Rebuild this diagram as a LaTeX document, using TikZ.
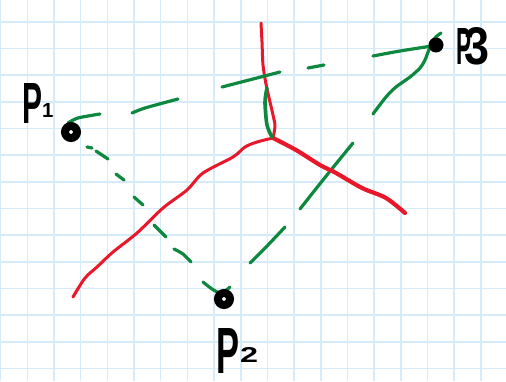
\documentclass[tikz,border=0pt]{standalone}
\usepackage{fontspec}
\setmainfont{Liberation Sans}
\usepackage{graphicx}
\definecolor{gridblue}{RGB}{214,235,250}
\definecolor{penred}{RGB}{232,24,42}
\definecolor{pengreen}{RGB}{14,136,62}
\tikzset{
  gridline/.style={draw=gridblue, line width=1.6pt},
  redpen/.style={draw=penred, line width=3pt, line cap=round, line join=round},
  greenpen/.style={draw=pengreen, line width=3.2pt, line cap=round, line join=round},
  ring/.style={circle, draw=black, line width=8pt, inner sep=0pt, minimum size=12pt},
  solid dot/.style={circle, fill=black, inner sep=0pt, minimum size=15pt},
  lbl/.style={inner sep=0pt, anchor=base west, text=black, font=\bfseries}
}
\begin{document}
\begin{tikzpicture}[x=1pt, y=-1pt]
\useasboundingbox (0,0) rectangle (506,381);
\fill[white] (0,0) rectangle (506,381);
% grid
\foreach \i in {0,...,18} \draw[gridline] ({0.67+26.67*\i},0) -- ({0.67+26.67*\i},381);
\foreach \j in {1,...,14} \draw[gridline] (0,{-4.97+26.67*\j}) -- (506,{-4.97+26.67*\j});
% green dash under the red line
\draw[greenpen] plot[smooth] coordinates {(353,143) (331,170) (315,190) (300,209)};
% red lines
\draw[redpen] plot[smooth] coordinates {(261,23) (262,42) (263,65) (266,84) (270,102) (273,115) (275,126) (273,138)};
\draw[redpen] plot[smooth] coordinates {(273,138) (257,142) (245,147) (233,157) (203,173) (187,190) (163,208) (137,233) (113,252) (97,267) (85,278) (73,297)};
\draw[redpen, line width=4.2pt] plot[smooth] coordinates {(273,138) (296,150) (320,165) (336,173) (362,188) (386,198) (405,213)};
% green bisector piece
\draw[greenpen, line width=3.6pt] plot[smooth] coordinates {(267,88) (265,102) (267,125) (272,137)};
% P1 -- P3
\draw[greenpen] plot[smooth] coordinates {(68,123) (78,118) (100,114)};
\draw[greenpen] plot[smooth] coordinates {(132,113) (145,108) (178,99)};
\draw[greenpen] plot[smooth] coordinates {(222,87) (253,79) (280,72)};
\draw[greenpen] (308,68) -- (324,65);
\draw[greenpen] plot[smooth] coordinates {(373,56) (400,51) (432,46)};
% P2 -- P3
\draw[greenpen] plot[smooth] coordinates {(373,114) (386,97) (396,87) (410,77) (420,68) (425,60) (430,47) (435,38) (441,33)};
\draw[greenpen] plot[smooth] coordinates {(285,227) (268,245) (250,263)};
% P1 -- P2
\draw[greenpen] (87,147) -- (92,148);
\draw[greenpen] (96,151) -- (108,159);
\draw[greenpen] (116,174) -- (124,180);
\draw[greenpen] (134,197) -- (143,205);
\draw[greenpen] (154,225) -- (166,237);
\draw[greenpen] plot[smooth] coordinates {(174,249) (183,254) (191,262)};
\draw[greenpen] plot[smooth] coordinates {(203,282) (212,289) (220,293) (225,291) (230,287)};
% points
\node[ring] (p1) at (71,132) {};
\node[ring] (p2) at (224,299) {};
\node[solid dot] (p3) at (436,45) {};
% labels
\node[lbl] (l1) at (22,123) {\resizebox{20pt}{40pt}{P}\raisebox{6pt}{\resizebox{!}{14pt}{1}}};
\node[lbl] (l2) at (216,373) {\resizebox{23pt}{45pt}{P}\kern1pt\raisebox{11pt}{\resizebox{18pt}{15pt}{2}}};
\node[lbl] (l3) at (456,64) {\resizebox{15pt}{36pt}{P}\kern-7pt\resizebox{25pt}{37pt}{3}};
\end{tikzpicture}
\end{document}
